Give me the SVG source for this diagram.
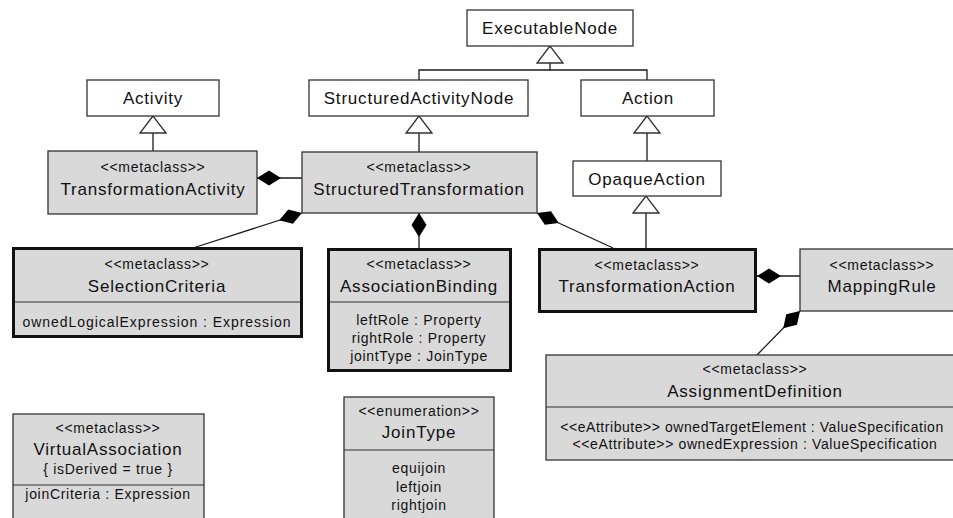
<svg xmlns="http://www.w3.org/2000/svg" width="953" height="518" viewBox="0 0 953 518">
<style>
.t{font-family:"Liberation Sans",Arial,sans-serif;fill:#111111;text-anchor:middle}
.n{font-size:17px;letter-spacing:0.8px}
.s{font-size:14px;letter-spacing:0.7px}
.w{fill:#ffffff;stroke:#333333;stroke-width:1.3}
.g{fill:#d9d9d9;stroke:#333333;stroke-width:1.3}
.k{fill:#d9d9d9;stroke:#111111;stroke-width:3}
.d{stroke:#333333;stroke-width:1.2;fill:none}
.c{stroke:#1a1a1a;stroke-width:1.3;fill:none}
</style>
<defs>
<marker id="dia" markerUnits="userSpaceOnUse" viewBox="0 -8 24 16" markerWidth="24" markerHeight="16" refX="0" refY="0" orient="auto">
<path d="M0,0 L12,-7.5 L24,0 L12,7.5 Z" fill="#000000"/>
</marker>
<marker id="gen" markerUnits="userSpaceOnUse" viewBox="0 0 19 28" markerWidth="19" markerHeight="28" refX="18" refY="14" orient="auto">
<path d="M18,14 L1,1 L1,27 Z" fill="#ffffff" stroke="#333333" stroke-width="1.3"/>
</marker>
</defs>

<g id="connectors">
<path class="c" d="M419,80 V70 H647 V80"/>
<path class="c" d="M550,70 V46" marker-end="url(#gen)"/>
<path class="c" d="M153,151 V116" marker-end="url(#gen)"/>
<path class="c" d="M419,152 V116" marker-end="url(#gen)"/>
<path class="c" d="M647,161 V116" marker-end="url(#gen)"/>
<path class="c" d="M646,248 V196" marker-end="url(#gen)"/>
<path class="c" d="M257,178 H302" marker-start="url(#dia)"/>
<path class="c" d="M419,213 V248" marker-start="url(#dia)"/>
<path class="c" d="M302,213 L193,248" marker-start="url(#dia)"/>
<path class="c" d="M537,213 L613,248" marker-start="url(#dia)"/>
<path class="c" d="M757,276 H800" marker-start="url(#dia)"/>
<path class="c" d="M800,311 L757,355" marker-start="url(#dia)"/>
</g>

<g id="ExecutableNode">
<rect class="w" x="467" y="10" width="166" height="36"/>
<text class="t n" x="550" y="34">ExecutableNode</text>
</g>

<g id="Activity">
<rect class="w" x="87" y="80" width="132" height="36"/>
<text class="t n" x="153" y="104">Activity</text>
</g>

<g id="StructuredActivityNode">
<rect class="w" x="309" y="80" width="219" height="36"/>
<text class="t n" x="419" y="104">StructuredActivityNode</text>
</g>

<g id="Action">
<rect class="w" x="581" y="80" width="133" height="36"/>
<text class="t n" x="648" y="104">Action</text>
</g>

<g id="OpaqueAction">
<rect class="w" x="573" y="161" width="148" height="35"/>
<text class="t n" x="647" y="185">OpaqueAction</text>
</g>

<g id="TransformationActivity">
<rect class="g" x="48" y="151" width="209" height="63"/>
<text class="t s" x="153" y="172">&lt;&lt;metaclass&gt;&gt;</text>
<text class="t n" x="153" y="195">TransformationActivity</text>
</g>

<g id="StructuredTransformation">
<rect class="g" x="302" y="152" width="235" height="61"/>
<text class="t s" x="419" y="172">&lt;&lt;metaclass&gt;&gt;</text>
<text class="t n" x="419" y="195">StructuredTransformation</text>
</g>

<g id="SelectionCriteria">
<rect class="k" x="13.5" y="248.5" width="288" height="88"/>
<line class="d" x1="15" y1="302" x2="300" y2="302"/>
<text class="t s" x="157" y="269">&lt;&lt;metaclass&gt;&gt;</text>
<text class="t n" x="157" y="292">SelectionCriteria</text>
<text class="t s" x="157" y="327" style="letter-spacing:0.95px">ownedLogicalExpression : Expression</text>
</g>

<g id="AssociationBinding">
<rect class="k" x="328.5" y="249.5" width="182" height="121"/>
<line class="d" x1="330" y1="302" x2="509" y2="302"/>
<text class="t s" x="419" y="269">&lt;&lt;metaclass&gt;&gt;</text>
<text class="t n" x="419" y="292">AssociationBinding</text>
<text class="t s" x="419" y="325">leftRole : Property</text>
<text class="t s" x="419" y="343">rightRole : Property</text>
<text class="t s" x="419" y="361">jointType : JoinType</text>
</g>

<g id="TransformationAction">
<rect class="k" x="539.5" y="249.5" width="216" height="62"/>
<text class="t s" x="647" y="270">&lt;&lt;metaclass&gt;&gt;</text>
<text class="t n" x="647" y="292">TransformationAction</text>
</g>

<g id="MappingRule">
<rect class="g" x="800" y="249" width="164" height="62"/>
<text class="t s" x="882" y="270">&lt;&lt;metaclass&gt;&gt;</text>
<text class="t n" x="882" y="292">MappingRule</text>
</g>

<g id="AssignmentDefinition">
<rect class="g" x="546" y="355" width="418" height="105"/>
<line class="d" x1="546" y1="407" x2="964" y2="407"/>
<text class="t s" x="755" y="374">&lt;&lt;metaclass&gt;&gt;</text>
<text class="t n" x="755" y="397">AssignmentDefinition</text>
<text class="t s" x="752" y="432" style="letter-spacing:0.55px">&lt;&lt;eAttribute&gt;&gt; ownedTargetElement : ValueSpecification</text>
<text class="t s" x="755" y="449" style="letter-spacing:0.63px">&lt;&lt;eAttribute&gt;&gt; ownedExpression : ValueSpecification</text>
</g>

<g id="VirtualAssociation">
<rect class="g" x="13" y="414" width="191" height="120"/>
<line class="d" x1="13" y1="485" x2="204" y2="485"/>
<text class="t s" x="108" y="433">&lt;&lt;metaclass&gt;&gt;</text>
<text class="t n" x="108" y="455">VirtualAssociation</text>
<text class="t s" x="108" y="474">{ isDerived = true }</text>
<text class="t s" x="108" y="499">joinCriteria : Expression</text>
</g>

<g id="JoinType">
<rect class="g" x="344" y="397" width="150" height="140"/>
<line class="d" x1="344" y1="450" x2="494" y2="450"/>
<text class="t s" x="419" y="416">&lt;&lt;enumeration&gt;&gt;</text>
<text class="t n" x="419" y="438">JoinType</text>
<text class="t s" x="419" y="473">equijoin</text>
<text class="t s" x="419" y="492">leftjoin</text>
<text class="t s" x="419" y="510">rightjoin</text>
</g>
</svg>
